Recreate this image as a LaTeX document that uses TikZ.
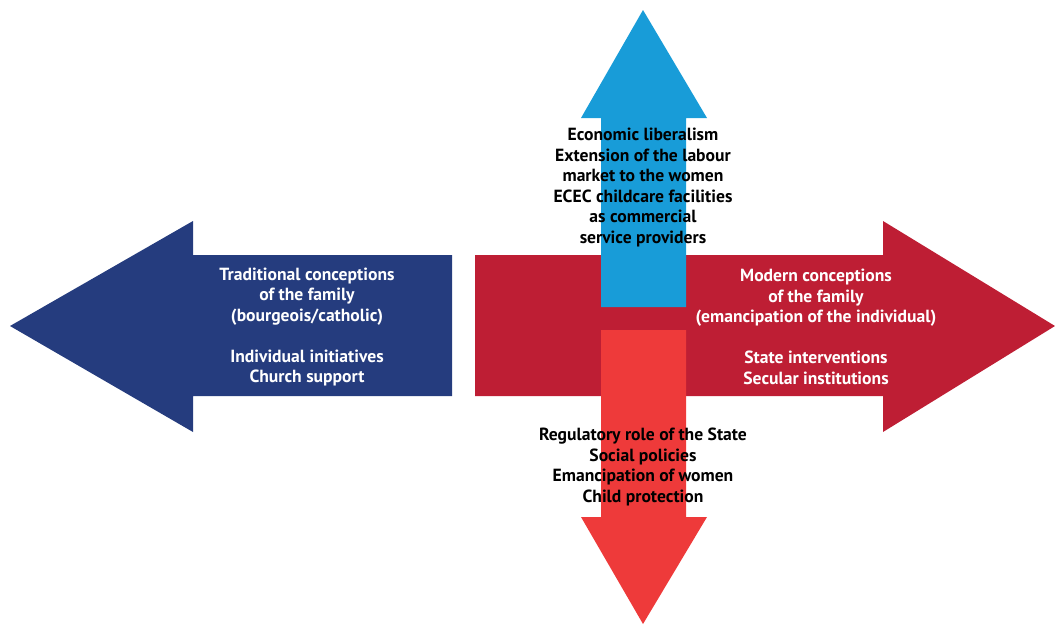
\documentclass[tikz,border=0pt]{standalone}
\usepackage{fontspec}
\setmainfont{PT Sans}
\definecolor{navyblue}{HTML}{253C7E}
\definecolor{crimson}{HTML}{BE1E34}
\definecolor{skyblue}{HTML}{189CD8}
\definecolor{lightred}{HTML}{EE3A3A}
\tikzset{
  lbl/.style={align=center, inner sep=0pt, font=\bfseries\fontsize{17.6}{20.5}\selectfont},
  lblwhite/.style={lbl, text=white}
}

\begin{document}
\begin{tikzpicture}[x=1pt, y=-1pt]
            \useasboundingbox (0,0) rectangle (1055,624);
            % horizontal arrows
            \fill[navyblue] (10,326) -- (193,221) -- (193,255) -- (452,255) -- (452,396) -- (193,396) -- (193,432) -- cycle;
            \fill[crimson] (1055,326) -- (883,221) -- (883,255) -- (475,255) -- (475,396) -- (883,396) -- (883,432) -- cycle;
            % vertical arrows
            \fill[skyblue] (643,10) -- (707,118) -- (686,118) -- (686,307) -- (601,307) -- (601,118) -- (581,118) -- cycle;
            \fill[lightred] (643,624) -- (707,517) -- (686,517) -- (686,330) -- (601,330) -- (601,517) -- (581,517) -- cycle;
            % labels
            \node[lbl] (market) at (643,187.5) {Economic liberalism\\Extension of the labour\\market to the women\\ECEC childcare facilities\\as commercial\\service providers};
            \node[lblwhite] (traditional) at (307,327) {Traditional conceptions\\of the family\\(bourgeois/catholic)\\[20.5pt]Individual initiatives\\Church support};
            \node[lblwhite] (modern) at (816,327) {Modern conceptions\\of the family\\(emancipation of the individual)\\[20.5pt]State interventions\\Secular institutions};
            \node[lbl] (state) at (643,467) {Regulatory role of the State\\Social policies\\Emancipation of women\\Child protection};
        \end{tikzpicture}
\end{document}
